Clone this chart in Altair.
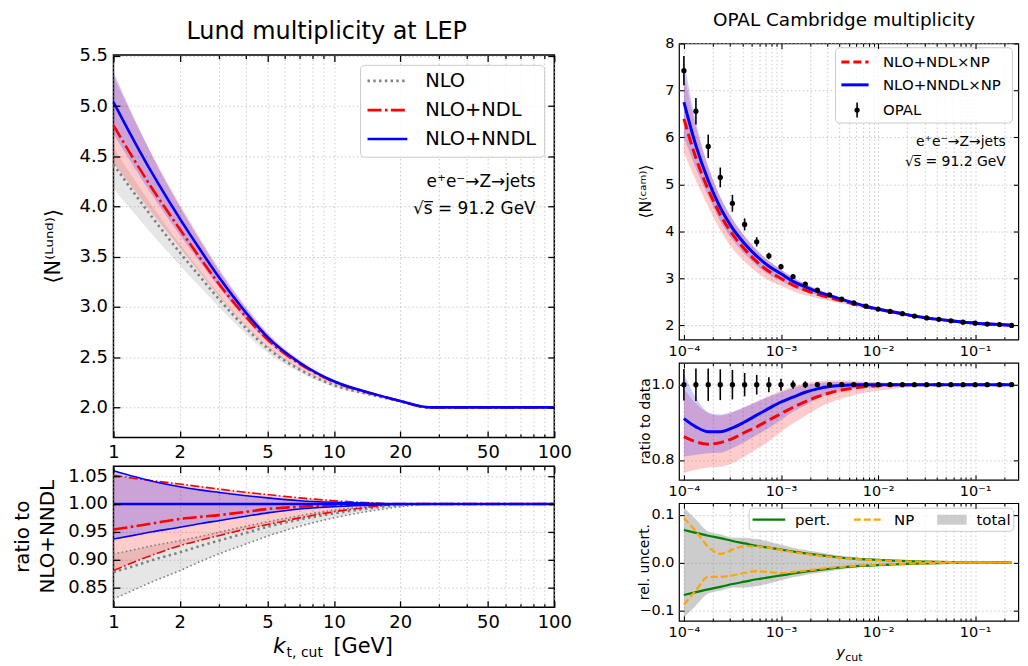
import altair as alt
import pandas as pd

FONT = "DejaVu Sans"
GRID = "#c4c4c4"

# ---------------- left panels: Lund multiplicity ----------------
kt = [1, 1.25, 1.5, 2, 2.5, 3, 4, 5, 7, 10, 15, 20, 27.1, 50, 100]
nndl_lund = [5.04, 4.64, 4.33, 3.88, 3.555, 3.30, 2.94, 2.70, 2.445, 2.26, 2.137, 2.064, 2.0, 2.0, 2.0]
# ratios to NLO+NNDL central value
r_nndl_hi = [1.060, 1.049, 1.041, 1.031, 1.025, 1.021, 1.015, 1.011, 1.006, 1.003, 1.001, 1.0, 1.0, 1.0, 1.0]
r_nndl_lo = [0.937, 0.944, 0.950, 0.958, 0.965, 0.970, 0.978, 0.984, 0.991, 0.995, 0.998, 1.0, 1.0, 1.0, 1.0]
r_ndl = [0.954, 0.960, 0.965, 0.973, 0.977, 0.980, 0.986, 0.991, 0.995, 0.998, 0.999, 1.0, 1.0, 1.0, 1.0]
r_ndl_hi = [1.052, 1.046, 1.042, 1.036, 1.031, 1.027, 1.021, 1.017, 1.011, 1.006, 1.002, 1.0, 1.0, 1.0, 1.0]
r_ndl_lo = [0.880, 0.896, 0.908, 0.925, 0.935, 0.943, 0.955, 0.963, 0.975, 0.986, 0.995, 1.0, 1.0, 1.0, 1.0]
r_nlo = [0.877, 0.889, 0.899, 0.913, 0.925, 0.934, 0.948, 0.959, 0.972, 0.983, 0.993, 0.998, 1.0, 1.0, 1.0]
r_nlo_hi = [0.910, 0.918, 0.925, 0.934, 0.942, 0.949, 0.960, 0.968, 0.979, 0.989, 0.996, 0.999, 1.0, 1.0, 1.0]
r_nlo_lo = [0.829, 0.846, 0.860, 0.880, 0.897, 0.910, 0.928, 0.942, 0.960, 0.975, 0.988, 0.995, 1.0, 1.0, 1.0]
kt_major = [1, 2, 5, 10, 20, 50, 100]
kt_minor = [3, 4, 6, 7, 8, 9, 30, 40, 60, 70, 80, 90]
lund_yticks = [2.0, 2.5, 3.0, 3.5, 4.0, 4.5, 5.0, 5.5]
ratio_yticks = [0.85, 0.90, 0.95, 1.00, 1.05]

# ---------------- right panels: OPAL Cambridge multiplicity ----------------
ycut = [1.00e-4, 1.33e-4, 1.78e-4, 2.37e-4, 3.16e-4, 4.22e-4, 5.62e-4, 7.50e-4,
        1.00e-3, 1.33e-3, 1.78e-3, 2.37e-3, 3.16e-3, 4.22e-3, 5.62e-3, 7.50e-3,
        1.00e-2, 1.33e-2, 1.78e-2, 2.37e-2, 3.16e-2, 4.22e-2, 5.62e-2, 7.50e-2,
        0.100, 0.133, 0.178, 0.237]
opal = [7.42, 6.56, 5.81, 5.15, 4.60, 4.15, 3.78, 3.48, 3.25, 3.04, 2.88, 2.75, 2.65, 2.56,
        2.48, 2.41, 2.35, 2.30, 2.25, 2.20, 2.16, 2.13, 2.10, 2.07, 2.05, 2.03, 2.02, 2.00]
opal_rel_err = [0.042, 0.043, 0.043, 0.041, 0.039, 0.031, 0.026, 0.020, 0.016, 0.011, 0.009, 0.006,
                0.004, 0.003, 0.002, 0.002, 0.002, 0.001, 0.001, 0.001, 0.001, 0.001, 0.001, 0.001,
                0.001, 0.001, 0.001, 0.001]
# theory / data
t_nndl = [0.910, 0.888, 0.875, 0.875, 0.885, 0.901, 0.919, 0.937, 0.954, 0.967, 0.980, 0.989, 0.995, 0.998,
          1.0, 1.0, 1.0, 1.0, 1.0, 1.0, 1.0, 1.0, 1.0, 1.0, 1.0, 1.0, 1.0, 1.0]
t_nndl_hi = [1.029, 0.965, 0.927, 0.921, 0.928, 0.941, 0.955, 0.968, 0.980, 0.991, 0.999, 1.004, 1.007, 1.007,
             1.007, 1.006, 1.005, 1.004, 1.003, 1.002, 1.001, 1.0, 1.0, 1.0, 1.0, 1.0, 1.0, 1.0]
t_nndl_lo = [0.809, 0.814, 0.818, 0.819, 0.831, 0.848, 0.866, 0.885, 0.906, 0.928, 0.945, 0.963, 0.976, 0.983,
             0.989, 0.992, 0.995, 0.997, 0.998, 0.999, 1.0, 1.0, 1.0, 1.0, 1.0, 1.0, 1.0, 1.0]
t_ndl = [0.862, 0.848, 0.842, 0.846, 0.857, 0.873, 0.888, 0.906, 0.923, 0.940, 0.955, 0.968, 0.978, 0.986,
         0.991, 0.995, 0.997, 0.999, 1.0, 1.0, 1.0, 1.0, 1.0, 1.0, 1.0, 1.0, 1.0, 1.0]
t_ndl_hi = [0.989, 0.950, 0.925, 0.918, 0.926, 0.940, 0.955, 0.970, 0.983, 0.995, 1.004, 1.009, 1.011, 1.011,
            1.010, 1.008, 1.007, 1.005, 1.004, 1.003, 1.002, 1.001, 1.0, 1.0, 1.0, 1.0, 1.0, 1.0]
t_ndl_lo = [0.765, 0.774, 0.780, 0.782, 0.791, 0.809, 0.829, 0.850, 0.875, 0.897, 0.917, 0.937, 0.952, 0.963,
            0.972, 0.979, 0.984, 0.988, 0.992, 0.995, 0.997, 0.998, 0.999, 1.0, 1.0, 1.0, 1.0, 1.0]
# relative uncertainties
u_pert = [0.068, 0.062, 0.056, 0.051, 0.045, 0.040, 0.035, 0.031, 0.027, 0.023, 0.019, 0.016, 0.013, 0.010,
          0.008, 0.0065, 0.0055, 0.0043, 0.0033, 0.0025, 0.0018, 0.0012, 0.0008, 0.0005, 0.0003, 0.0002, 0.0001, 0.0]
u_np_hi = [0.093, 0.065, 0.033, 0.018, 0.027, 0.034, 0.034, 0.031, 0.026, 0.022, 0.018, 0.015, 0.012, 0.0095,
           0.0075, 0.006, 0.0048, 0.0037, 0.0028, 0.002, 0.0014, 0.001, 0.0007, 0.0004, 0.0002, 0.0001, 0.0, 0.0]
u_np_lo = [-0.088, -0.058, -0.030, -0.030, -0.027, -0.022, -0.018, -0.020, -0.022, -0.020, -0.017, -0.014, -0.011, -0.009,
           -0.007, -0.0055, -0.0045, -0.0036, -0.0028, -0.002, -0.0014, -0.001, -0.0007, -0.0004, -0.0002, -0.0001, 0.0, 0.0]
u_total = [0.115, 0.090, 0.065, 0.059, 0.052, 0.052, 0.049, 0.044, 0.037, 0.031, 0.026, 0.022, 0.018, 0.014,
           0.011, 0.0088, 0.0073, 0.0057, 0.0043, 0.0032, 0.0023, 0.0016, 0.0011, 0.0006, 0.0004, 0.0002, 0.0001, 0.0]
y_major = [1e-4, 1e-3, 1e-2, 1e-1]
y_minor = [m * d for d in (1e-4, 1e-3, 1e-2) for m in range(2, 10)] + [0.2]
cam_yticks = [2, 3, 4, 5, 6, 7, 8]
rd_yticks = [0.8, 1.0]
ru_yticks = [-0.1, 0.0, 0.1]

# ---------------- tables ----------------
L = pd.DataFrame({"kt": kt, "c": nndl_lund, "nndl_hi": r_nndl_hi, "nndl_lo": r_nndl_lo,
                  "ndl": r_ndl, "ndl_hi": r_ndl_hi, "ndl_lo": r_ndl_lo,
                  "nlo": r_nlo, "nlo_hi": r_nlo_hi, "nlo_lo": r_nlo_lo})
L["one"] = 1.0
for col in ["nndl_hi", "nndl_lo", "ndl", "ndl_hi", "ndl_lo", "nlo", "nlo_hi", "nlo_lo"]:
    L["N_" + col] = L[col] * L["c"]

R = pd.DataFrame({"y": ycut, "opal": opal, "rerr": opal_rel_err,
                  "nndl": t_nndl, "nndl_hi": t_nndl_hi, "nndl_lo": t_nndl_lo,
                  "ndl": t_ndl, "ndl_hi": t_ndl_hi, "ndl_lo": t_ndl_lo,
                  "pert": u_pert, "np_hi": u_np_hi, "np_lo": u_np_lo, "tot": u_total})
R["one"] = 1.0
R["one_hi"] = 1.0 + R["rerr"]
R["one_lo"] = 1.0 - R["rerr"]
R["opal_hi"] = R["opal"] * R["one_hi"]
R["opal_lo"] = R["opal"] * R["one_lo"]
for col in ["nndl", "nndl_hi", "nndl_lo", "ndl", "ndl_hi", "ndl_lo"]:
    R["N_" + col] = R[col] * R["opal"]
R["pert_lo"] = -R["pert"]
R["tot_lo"] = -R["tot"]

ONE = pd.DataFrame({"a": [0]})

# ---------------- geometry (pixels) ----------------
LW, LH1, LH2 = 443, 384.4, 141.7
RW, RH1, RH2, RH3 = 341, 297.6, 117.6, 118.3
K = RW / 346.0


def rx(v):
    return v * K


xs_L = alt.Scale(type="log", domain=[1, 100], nice=False)
ys_L1 = alt.Scale(domain=[1.70, 5.51], nice=False, zero=False)
ys_L2 = alt.Scale(domain=[0.814, 1.068], nice=False, zero=False)
xs_R = alt.Scale(type="log", domain=[8.9e-5, 0.278], nice=False)
ys_R1 = alt.Scale(domain=[1.70, 8.0], nice=False, zero=False)
ys_R2 = alt.Scale(domain=[0.747, 1.058], nice=False, zero=False)
ys_R3 = alt.Scale(domain=[-0.122, 0.124], nice=False, zero=False)

R_LABELS = ("datum.value < 0.0005 ? '10\u207b\u2074' : datum.value < 0.005 ? '10\u207b\u00b3' : "
            "datum.value < 0.05 ? '10\u207b\u00b2' : '10\u207b\u00b9'")


def line(df, xf, yf, xs, ys, color, width, dash=None):
    kw = dict(color=color, strokeWidth=width, interpolate="monotone")
    if dash:
        kw["strokeDash"] = dash
    return alt.Chart(df).mark_line(**kw).encode(
        x=alt.X(f"{xf}:Q", scale=xs, axis=None), y=alt.Y(f"{yf}:Q", scale=ys, axis=None))


def band(df, xf, lo, hi, xs, ys, color, opacity):
    return alt.Chart(df).mark_area(color=color, opacity=opacity, interpolate="monotone").encode(
        x=alt.X(f"{xf}:Q", scale=xs, axis=None), y=alt.Y(f"{lo}:Q", scale=ys, axis=None), y2=f"{hi}:Q")


def txt(s, x, y, size, align="left", baseline="middle", angle=0, style="normal"):
    return alt.Chart(ONE).mark_text(text=s, font=FONT, fontSize=size, align=align, baseline=baseline,
                                    angle=angle, fontStyle=style, color="black").encode(
        x=alt.value(x), y=alt.value(y))


def hrule(x1, x2, y, color, width, dash=None):
    kw = dict(color=color, strokeWidth=width)
    if dash:
        kw["strokeDash"] = dash
    return alt.Chart(ONE).mark_rule(**kw).encode(x=alt.value(x1), x2=alt.value(x2), y=alt.value(y))


def vrule(x, y1, y2, color, width):
    return alt.Chart(ONE).mark_rule(color=color, strokeWidth=width).encode(
        x=alt.value(x), y=alt.value(y1), y2=alt.value(y2))


def box(x1, x2, y1, y2, fill="white", stroke="#cccccc", opacity=0.8, radius=4):
    return alt.Chart(ONE).mark_rect(fill=fill, fillOpacity=opacity, stroke=stroke, strokeWidth=1,
                                    cornerRadius=radius).encode(
        x=alt.value(x1), x2=alt.value(x2), y=alt.value(y1), y2=alt.value(y2))


def anchor(x, y):
    return alt.Chart(ONE).mark_rule(color="white", strokeWidth=1).encode(
        x=alt.value(x), y=alt.value(y), y2=alt.value(y + 1))


def axes(xs, ys, xdom, ydom, xmaj, xmin, ymaj, fs, tmaj, tmin, pad, tw, xlab, ylab):
    d = pd.DataFrame({"x": [xdom[0]], "y": [ydom[0]]})

    def lay(xa=None, ya=None):
        return alt.Chart(d).mark_point(opacity=0, size=1).encode(
            x=alt.X("x:Q", scale=xs, axis=xa), y=alt.Y("y:Q", scale=ys, axis=ya))

    ext = dict(minExtent=0, maxExtent=400)
    gkw = dict(grid=True, ticks=False, labels=False, domain=False, title=None,
               gridColor=GRID, gridDash=[1.5, 2.5], gridWidth=0.9, zindex=0, **ext)
    base = dict(domain=False, title=None, grid=False, zindex=1, tickColor="black", tickWidth=tw, **ext)
    lab = dict(labels=True, labelPadding=pad, labelFlush=False, labelOverlap=False,
               labelFont=FONT, labelFontSize=fs, labelColor="black")
    grid = [lay(xa=alt.Axis(orient="bottom", values=sorted(xmaj + xmin), **gkw)),
            lay(ya=alt.Axis(orient="left", values=ymaj, **gkw))]
    ticks = [lay(xa=alt.Axis(orient="bottom", values=xmaj, tickSize=tmaj, offset=-tmaj, **lab, **xlab, **base)),
             lay(xa=alt.Axis(orient="bottom", values=xmin, tickSize=tmin, offset=-tmin, labels=False, **base)),
             lay(xa=alt.Axis(orient="top", values=xmaj, tickSize=tmaj, offset=-tmaj, labels=False, **base)),
             lay(xa=alt.Axis(orient="top", values=xmin, tickSize=tmin, offset=-tmin, labels=False, **base)),
             lay(ya=alt.Axis(orient="left", values=ymaj, tickSize=tmaj, offset=-tmaj, **lab, **ylab, **base)),
             lay(ya=alt.Axis(orient="right", values=ymaj, tickSize=tmaj, offset=-tmaj, labels=False, **base))]
    return grid, ticks


def panel(grid, marks, ticks, extra, w, h, sw):
    return alt.layer(*grid, *marks, *ticks, *extra).resolve_axis(x="independent", y="independent").properties(
        width=w, height=h, view=alt.ViewBackground(stroke="black", strokeWidth=sw))


# ---------------- left top ----------------
gL1, tL1 = axes(xs_L, ys_L1, [1, 100], [1.70, 5.51], kt_major, kt_minor, lund_yticks, 18, 6.5, 3.6, 6, 1.3,
                dict(format="d"), dict(format=".1f"))
RED_DD = [14, 3.5, 2.5, 3.5]
GRAY_DOT = [2.4, 3.4]
mL1 = [band(L, "kt", "N_nlo_lo", "N_nlo_hi", xs_L, ys_L1, "gray", 0.2),
       band(L, "kt", "N_ndl_lo", "N_ndl_hi", xs_L, ys_L1, "red", 0.2),
       band(L, "kt", "N_nndl_lo", "N_nndl_hi", xs_L, ys_L1, "blue", 0.2),
       line(L, "kt", "N_nlo", xs_L, ys_L1, "gray", 2.6, GRAY_DOT),
       line(L, "kt", "N_ndl", xs_L, ys_L1, "red", 2.6, RED_DD),
       line(L, "kt", "c", xs_L, ys_L1, "blue", 2.6)]
eL1 = [box(248.3, 433.3, 10.4, 102.7),
       hrule(255.3, 295.3, 26, "gray", 2.6, GRAY_DOT),
       hrule(255.3, 295.3, 55.4, "red", 2.6, RED_DD),
       hrule(255.3, 295.3, 84.4, "blue", 2.6),
       txt("NLO", 313.3, 26, 19.5), txt("NLO+NDL", 313.3, 55.4, 19.5), txt("NLO+NNDL", 313.3, 84.4, 19.5),
       txt("e\u207ae\u207b\u2192Z\u2192jets", 424.3, 127.7, 17, align="right"),
       txt("\u221as\u0305 = 91.2 GeV", 424.3, 154.7, 17, align="right"),
       txt("\u27e8N\u207d\u1d38\u1d58\u207f\u1d48\u207e\u27e9", -60, LH1 / 2, 21, align="center", angle=270),
       txt("Lund multiplicity at LEP", 214.3, -16.3, 24, align="center", baseline="alphabetic"),
       anchor(-104.7, -44.3), anchor(464, 200)]
lt = panel(gL1, mL1, tL1, eL1, LW, LH1, 1.5)

# ---------------- left bottom ----------------
gL2, tL2 = axes(xs_L, ys_L2, [1, 100], [0.814, 1.068], kt_major, kt_minor, ratio_yticks, 18, 6.5, 3.6, 6, 1.3,
                dict(format="d"), dict(format=".2f"))
mL2 = [band(L, "kt", "nlo_lo", "nlo_hi", xs_L, ys_L2, "gray", 0.2),
       band(L, "kt", "ndl_lo", "ndl_hi", xs_L, ys_L2, "red", 0.2),
       band(L, "kt", "nndl_lo", "nndl_hi", xs_L, ys_L2, "blue", 0.2),
       line(L, "kt", "nlo_hi", xs_L, ys_L2, "gray", 1.6, [1.6, 2.6]),
       line(L, "kt", "nlo_lo", xs_L, ys_L2, "gray", 1.6, [1.6, 2.6]),
       line(L, "kt", "nlo", xs_L, ys_L2, "gray", 2.6, GRAY_DOT),
       line(L, "kt", "ndl_hi", xs_L, ys_L2, "red", 1.6, [9, 2.5, 1.6, 2.5]),
       line(L, "kt", "ndl_lo", xs_L, ys_L2, "red", 1.6, [9, 2.5, 1.6, 2.5]),
       line(L, "kt", "ndl", xs_L, ys_L2, "red", 2.6, RED_DD),
       line(L, "kt", "nndl_hi", xs_L, ys_L2, "blue", 1.6),
       line(L, "kt", "nndl_lo", xs_L, ys_L2, "blue", 1.6),
       line(L, "kt", "one", xs_L, ys_L2, "blue", 2.6)]
eL2 = [txt("ratio to", -90.7, LH2 / 2, 20, align="center", angle=270),
       txt("NLO+NNDL", -65.7, LH2 / 2, 20, align="center", angle=270),
       txt("k", 160.3, 188, 22, baseline="alphabetic", style="italic"),
       txt("t, cut", 174, 192, 14, baseline="alphabetic"),
       txt("[GeV]", 221, 188, 21, baseline="alphabetic")]
lb = panel(gL2, mL2, tL2, eL2, LW, LH2, 1.5)

# ---------------- right top ----------------
gR1, tR1 = axes(xs_R, ys_R1, [8.9e-5, 0.278], [1.70, 8.0], y_major, y_minor, cam_yticks, 14.5, 5, 2.9, 5, 1.1,
                dict(labelExpr=R_LABELS), dict(format="d"))
mR1 = [band(R, "y", "N_ndl_lo", "N_ndl_hi", xs_R, ys_R1, "red", 0.2),
       band(R, "y", "N_nndl_lo", "N_nndl_hi", xs_R, ys_R1, "blue", 0.2),
       line(R, "y", "N_ndl", xs_R, ys_R1, "red", 3, [11, 4.5]),
       line(R, "y", "N_nndl", xs_R, ys_R1, "blue", 3),
       alt.Chart(R).mark_rule(color="black", strokeWidth=1.6).encode(
           x=alt.X("y:Q", scale=xs_R, axis=None), y=alt.Y("opal_lo:Q", scale=ys_R1, axis=None), y2="opal_hi:Q"),
       alt.Chart(R).mark_circle(color="black", opacity=1, size=28).encode(
           x=alt.X("y:Q", scale=xs_R, axis=None), y=alt.Y("opal:Q", scale=ys_R1, axis=None))]
eR1 = [box(rx(159.6), rx(340), 4.3, 80),
       hrule(rx(165.6), rx(193.3), 18.6, "red", 3, [8, 4]),
       hrule(rx(165.6), rx(193.3), 41.6, "blue", 3),
       vrule(rx(181.6), 59.3, 74.3, "black", 1.6),
       alt.Chart(ONE).mark_circle(color="black", opacity=1, size=28).encode(x=alt.value(rx(181.6)), y=alt.value(67)),
       txt("NLO+NDL\u00d7NP", rx(208), 18.6, 15), txt("NLO+NNDL\u00d7NP", rx(208), 41.6, 15),
       txt("OPAL", rx(208), 67, 15),
       txt("e\u207ae\u207b\u2192Z\u2192jets", rx(333.3), 99.3, 14, align="right"),
       txt("\u221as\u0305 = 91.2 GeV", rx(333.3), 119.3, 14, align="right"),
       txt("\u27e8N\u207d\u1d9c\u1d43\u1d50\u207e\u27e9", -32.7, RH1 / 2, 16, align="center", angle=270),
       txt("OPAL Cambridge multiplicity", rx(168.3), -32.2, 18.5, align="center", baseline="top"),
       anchor(-44, -32.7)]
rt = panel(gR1, mR1, tR1, eR1, RW, RH1, 1.2)

# ---------------- right middle ----------------
gR2, tR2 = axes(xs_R, ys_R2, [8.9e-5, 0.278], [0.747, 1.058], y_major, y_minor, rd_yticks, 14.5, 5, 2.9, 5, 1.1,
                dict(labelExpr=R_LABELS), dict(format=".1f"))
mR2 = [band(R, "y", "ndl_lo", "ndl_hi", xs_R, ys_R2, "red", 0.2),
       band(R, "y", "nndl_lo", "nndl_hi", xs_R, ys_R2, "blue", 0.2),
       line(R, "y", "ndl", xs_R, ys_R2, "red", 3, [11, 4.5]),
       line(R, "y", "nndl", xs_R, ys_R2, "blue", 3),
       alt.Chart(R).mark_rule(color="black", strokeWidth=1.6).encode(
           x=alt.X("y:Q", scale=xs_R, axis=None), y=alt.Y("one_lo:Q", scale=ys_R2, axis=None), y2="one_hi:Q"),
       alt.Chart(R).mark_circle(color="black", opacity=1, size=28).encode(
           x=alt.X("y:Q", scale=xs_R, axis=None), y=alt.Y("one:Q", scale=ys_R2, axis=None))]
eR2 = [txt("ratio to data", -33, RH2 / 2, 14, align="center", angle=270)]
rm = panel(gR2, mR2, tR2, eR2, RW, RH2, 1.2)

# ---------------- right bottom ----------------
gR3, tR3 = axes(xs_R, ys_R3, [8.9e-5, 0.278], [-0.122, 0.124], y_major, y_minor, ru_yticks, 14.5, 5, 2.9, 5, 1.1,
                dict(labelExpr=R_LABELS), dict(format=".1f"))
mR3 = [band(R, "y", "tot_lo", "tot", xs_R, ys_R3, "gray", 0.4),
       line(R, "y", "pert", xs_R, ys_R3, "green", 2.2),
       line(R, "y", "pert_lo", xs_R, ys_R3, "green", 2.2),
       line(R, "y", "np_hi", xs_R, ys_R3, "orange", 2.2, [7, 3]),
       line(R, "y", "np_lo", xs_R, ys_R3, "orange", 2.2, [7, 3])]
eR3 = [box(rx(71.6), rx(341.3), 5, 28.3),
       hrule(rx(75), rx(108.3), 16.6, "green", 2.2),
       hrule(rx(178.3), rx(208.3), 16.6, "orange", 2.2, [7, 3]),
       alt.Chart(ONE).mark_rect(fill="gray", fillOpacity=0.4).encode(
           x=alt.value(rx(263.3)), x2=alt.value(rx(293.3)), y=alt.value(11.6), y2=alt.value(21.6)),
       txt("pert.", rx(118.3), 16.6, 15), txt("NP", rx(219.3), 16.6, 15), txt("total", rx(303.3), 16.6, 15),
       txt("rel. uncert.", -34, RH3 / 2, 14, align="center", angle=270),
       txt("y", rx(160.3), 155, 15, baseline="alphabetic", style="italic"),
       txt("cut", rx(160.3) + 9.2, 159, 11, baseline="alphabetic")]
rb = panel(gR3, mR3, tR3, eR3, RW, RH3, 1.2)

spacer = alt.Chart(ONE).mark_rule(color="white", strokeWidth=1).encode(
    x=alt.value(0), y=alt.value(0), y2=alt.value(1)).properties(
    width=LW, height=1, view=alt.ViewBackground(stroke="transparent"))

left_inner = alt.vconcat(lt, lb, spacing=28.3, bounds="flush")
left_col = alt.vconcat(spacer, left_inner, spacing=10.6, bounds="flush")
right_col = alt.vconcat(rt, rm, rb, spacing=23, bounds="flush")
chart = alt.hconcat(left_col, right_col, spacing=56.3).properties(padding=0).configure_view(stroke="black")

chart.save("out.html", embed_options={"renderer": "svg", "actions": False})
